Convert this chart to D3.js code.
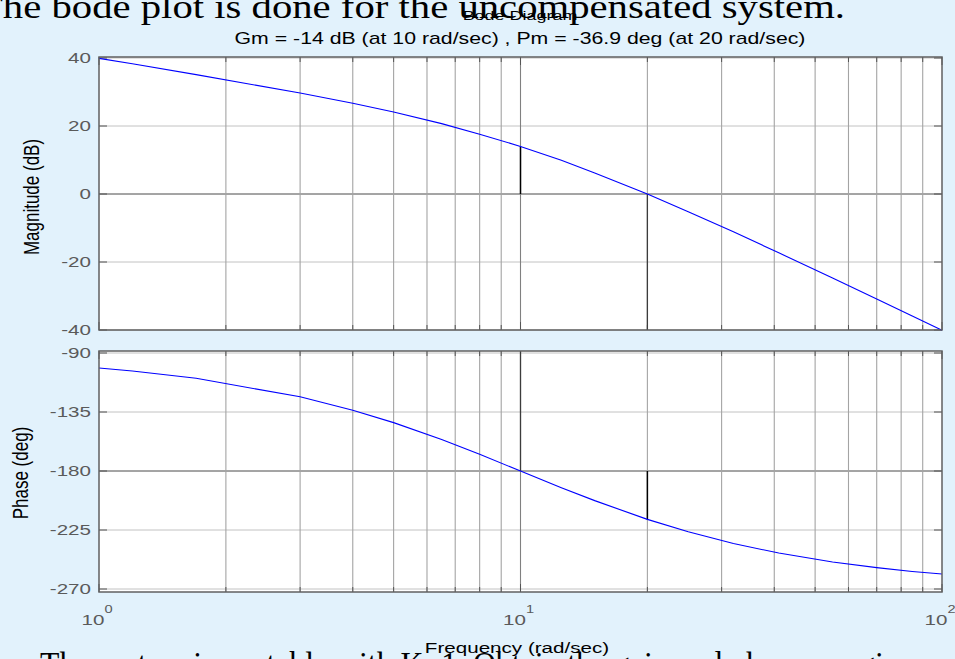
<!DOCTYPE html>
<html><head><meta charset="utf-8">
<script src="https://cdn.jsdelivr.net/npm/d3@7"></script>
<style>html,body{margin:0;padding:0;background:#e2f2fc;overflow:hidden}svg{display:block}</style>
</head><body><svg id="c" width="955" height="659"></svg>
<script>
// ---- data ----
const freqs    = [1, 1.2, 1.7, 3, 4, 5, 6.5, 8, 10, 12.5, 15, 20, 25, 32, 41, 55, 70, 85, 100];
const magDb    = [39.9, 38.3, 35.1, 29.7, 26.7, 24.1, 20.7, 17.6, 14.0, 9.9, 6.2, 0.0, -5.2, -11.1, -17.3, -24.7, -30.9, -35.9, -40.1];
const phaseDeg = [-101.4, -103.7, -109.3, -123.4, -133.6, -143.1, -156.0, -167.3, -180.0, -192.7, -202.6, -216.9, -226.4, -235.3, -242.6, -249.4, -253.7, -256.6, -258.6];
const magTicks   = [40, 20, 0, -20, -40];
const phaseTicks = [-90, -135, -180, -225, -270];
const xTickExps  = [0, 1, 2];
const gmFreq = 10, gmMag = 14.0;       // gain margin point
const pmFreq = 20, pmPhase = -216.9;   // phase margin point
const titleText = "Bode Diagram";
const subText = "Gm = -14 dB (at 10 rad/sec) ,  Pm = -36.9 deg (at 20 rad/sec)";

const svg = d3.select("#c");
const SX = 1.33; // horizontal stretch of the picture's lettering

const x  = d3.scaleLog().domain([1, 100]).range([99, 942]);
const yM = d3.scaleLinear().domain([40, -40]).range([58, 330]);
const yP = d3.scaleLinear().domain([-90, -270]).range([353, 589]);

function stext(g, px, py, str, size, opts = {}) {
  const t = g.append("g").attr("transform", `translate(${px},${py}) scale(${SX},1)` + (opts.rot ? " rotate(-90)" : ""))
    .append("text").attr("x", 0).attr("y", 0)
    .attr("font-family", "Liberation Sans, Arial, sans-serif")
    .attr("font-size", size).attr("fill", opts.fill || "#000")
    .attr("text-anchor", opts.anchor || "middle")
    .attr("dominant-baseline", opts.baseline || "auto")
    .text(str);
  return t;
}

// background serif text of the slide
svg.append("text").attr("x", -22).attr("y", 18)
  .attr("font-family", "Liberation Serif, Times New Roman, serif").attr("font-size", 33)
  .attr("textLength", 867).attr("lengthAdjust", "spacingAndGlyphs")
  .text("The bode plot is done for the uncompensated system.");
svg.append("text").attr("x", 40).attr("y", 675)
  .attr("font-family", "Liberation Serif, Times New Roman, serif").attr("font-size", 33)
  .attr("textLength", 880).attr("lengthAdjust", "spacingAndGlyphs")
  .text("The system is unstable with K=1. Obtain the gain and phase margins.");

function panel(y, domainTop, domainBot, ticks, zeroVal) {
  const g = svg.append("g");
  const top = y(domainTop) - (y === yM ? 1 : 2), bot = y(domainBot) + (y === yM ? 0 : 3);
  g.append("rect").attr("x", x(1)).attr("y", top).attr("width", x(100) - x(1)).attr("height", bot - top)
    .attr("fill", "#fff");
  // horizontal grid
  ticks.forEach(v => {
    g.append("line").attr("x1", x(1)).attr("x2", x(100)).attr("y1", y(v)).attr("y2", y(v))
      .attr("stroke", v === zeroVal ? "#4a4a4a" : "#c2c2c2").attr("stroke-width", 1);
  });
  // vertical grid
  x.ticks().filter(d => d > 1 && d < 100).forEach(d => {
    g.append("line").attr("x1", x(d)).attr("x2", x(d)).attr("y1", top).attr("y2", bot)
      .attr("stroke", d === 10 ? "#808080" : "#a4a4a4").attr("stroke-width", 1.1);
  });
  // ticks on left/right
  ticks.forEach(v => {
    g.append("line").attr("x1", x(1)).attr("x2", x(1) + 8).attr("y1", y(v)).attr("y2", y(v)).attr("stroke", "#555");
    g.append("line").attr("x1", x(100) - 8).attr("x2", x(100)).attr("y1", y(v)).attr("y2", y(v)).attr("stroke", "#555");
  });
  // ticks on top/bottom
  x.ticks().forEach(d => {
    const major = Number.isInteger(Math.log10(d));
    const L = major ? 8 : 5;
    g.append("line").attr("x1", x(d)).attr("x2", x(d)).attr("y1", top).attr("y2", top + L).attr("stroke", "#555");
    g.append("line").attr("x1", x(d)).attr("x2", x(d)).attr("y1", bot - L).attr("y2", bot).attr("stroke", "#555");
  });
  // tick labels
  ticks.forEach(v => {
    stext(g, 91, y(v) + 1, String(v), 15.5, {anchor: "end", baseline: "middle", fill: "#5a5a5a"});
  });
  return {g, top, bot};
}

const pm = panel(yM, 40, -40, magTicks, 0);
const pp = panel(yP, -90, -270, phaseTicks, -180);

// margin lines
pm.g.append("line").attr("x1", x(pmFreq)).attr("x2", x(pmFreq)).attr("y1", yM(0)).attr("y2", pm.bot)
  .attr("stroke", "#3c3c3c").attr("stroke-width", 1.3);
pm.g.append("line").attr("x1", x(gmFreq)).attr("x2", x(gmFreq)).attr("y1", yM(gmMag)).attr("y2", yM(0))
  .attr("stroke", "#000").attr("stroke-width", 1.5);
pp.g.append("line").attr("x1", x(gmFreq)).attr("x2", x(gmFreq)).attr("y1", pp.top).attr("y2", yP(-180))
  .attr("stroke", "#3c3c3c").attr("stroke-width", 1.3);
pp.g.append("line").attr("x1", x(pmFreq)).attr("x2", x(pmFreq)).attr("y1", yP(-180)).attr("y2", yP(pmPhase))
  .attr("stroke", "#000").attr("stroke-width", 1.5);

// curves
const magLine = d3.line().x((d, i) => x(freqs[i])).y(d => yM(d));
const phLine  = d3.line().x((d, i) => x(freqs[i])).y(d => yP(d));
pm.g.append("path").attr("d", magLine(magDb)).attr("fill", "none").attr("stroke", "#0000ff").attr("stroke-width", 1.1);
pp.g.append("path").attr("d", phLine(phaseDeg)).attr("fill", "none").attr("stroke", "#0000ff").attr("stroke-width", 1.1);

// borders
[pm, pp].forEach(p => {
  p.g.append("rect").attr("x", x(1)).attr("y", p.top).attr("width", x(100) - x(1)).attr("height", p.bot - p.top)
    .attr("fill", "none").attr("stroke", "#606060").attr("stroke-width", 1.5);
});

// x tick labels 10^n
xTickExps.forEach(e => {
  const g = svg.append("g").attr("transform", `translate(${x(Math.pow(10, e)) - 2},625) scale(${SX},1)`);
  const t = g.append("text").attr("font-family", "Liberation Sans, Arial, sans-serif").attr("fill", "#5a5a5a")
    .attr("font-size", 15.5).attr("text-anchor", "middle");
  t.append("tspan").text("10");
  t.append("tspan").attr("font-size", 11).attr("dy", -12).text(String(e));
});

// titles
stext(svg, 520, 20, titleText, 13.5);
stext(svg, 520, 44, subText, 16);
stext(svg, 517, 653, "Frequency  (rad/sec)", 15.5);
stext(svg, 39, 197, "Magnitude (dB)", 17, {rot: true});
stext(svg, 28, 473, "Phase (deg)", 17, {rot: true});
</script></body></html>
